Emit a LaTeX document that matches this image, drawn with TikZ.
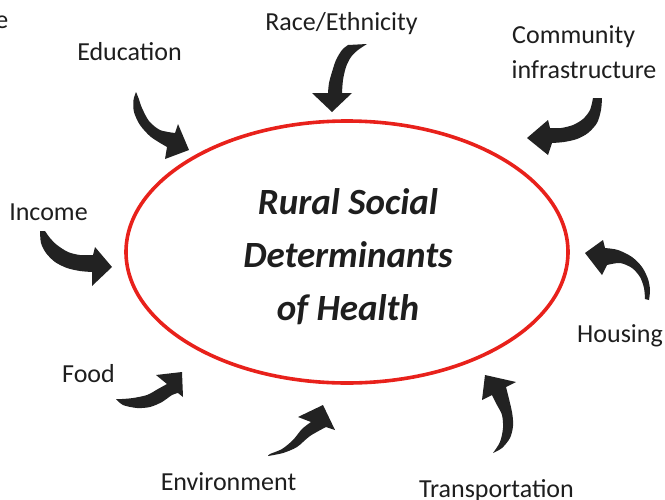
\documentclass[tikz,border=0pt]{standalone}
\usepackage{fontspec}
\setmainfont{Carlito}
\usetikzlibrary{shapes.geometric}
\definecolor{ringred}{HTML}{E8211B}
\definecolor{ink}{HTML}{1E1E1E}
\definecolor{arrowink}{HTML}{222222}
\begin{document}
\begin{tikzpicture}[x=1pt,y=-1pt,
  factor/.style={inner sep=0pt, text=ink, font=\fontsize{26}{34}\selectfont},
  swoosh/.style={fill=arrowink, draw=none},
]
\useasboundingbox (0,0) rectangle (665,499);

% central ellipse and its title
\node[ellipse, draw=ringred, line width=3.6pt, minimum width=442pt,
      minimum height=262pt, inner sep=0pt] (ring) at (347,252) {};
\node[inner sep=0pt, text=ink, align=center,
      font=\fontsize{37}{53}\selectfont\bfseries\itshape] (title) at (348,257)
  {Rural Social\\Determinants\\of Health};

% factor labels
\node[factor, anchor=base east] (edgee) at (8.5,28) {e};
\node[factor, anchor=base] (education) at (129.5,60) {Education};
\node[factor, anchor=base] (race) at (341.5,30) {Race/Ethnicity};
\node[factor, anchor=base west] (community) at (512,43) {Community};
\node[factor, anchor=base west] (infra) at (511.5,78) {infrastructure};
\node[factor, anchor=base] (income) at (48.5,220) {Income};
\node[factor, anchor=base] (housing) at (620,342) {Housing};
\node[factor, anchor=base] (food) at (88.5,382) {Food};
\node[factor, anchor=base] (environment) at (228.5,490) {Environment};
\node[factor, anchor=base] (transport) at (496.5,497) {Transportation};

% curved block arrows pointing at the ellipse
% education
\fill[swoosh] plot[smooth] coordinates {(136,92) (133.5,100) (134,112) (140,125) (151,137) (167,147)}
  -- (165,159) -- (189,150) -- (178,124)
  -- plot[smooth] coordinates {(175,133) (160,130) (149,121) (142,108) (138.5,98) (136,92)} -- cycle;
% race / ethnicity
\fill[swoosh] plot[smooth] coordinates {(367,44) (358,50) (351,57) (346,67) (343,80) (342,93)}
  -- (352,93) -- (332,112) -- (312,93)
  -- plot[smooth] coordinates {(328,93) (329,83) (332,72) (336,60) (342,50) (348,45)} -- cycle;
% community infrastructure
\fill[swoosh] plot[smooth] coordinates {(602,98) (601,110) (597,123) (588,133) (577,139) (564,142) (552,143)}
  -- (548,155) -- (527,138) -- (548,120)
  -- plot[smooth] coordinates {(550,128) (561,128) (573,125) (583,119) (590,110) (593,98)} -- cycle;
% income
\fill[swoosh] plot[smooth] coordinates {(40,231) (41,243) (46,253) (55,262) (67,268) (80,271) (92,272)}
  -- (92,286) -- (112,267) -- (95,247)
  -- plot[smooth] coordinates {(93,255) (80,255) (68,252) (57,245) (50,238) (45,231)} -- cycle;
% housing
\fill[swoosh] plot[smooth] coordinates {(649,300) (650,290) (648,279) (642,267) (632,257) (618,250) (605,248)}
  -- (603,240) -- (585,253) -- (602,275)
  -- plot[smooth] coordinates {(607,265) (620,263) (632,268) (640,277) (644,288) (645,299)} -- cycle;
% food
\fill[swoosh] plot[smooth] coordinates {(116,399) (123,405) (137,408) (150,407) (162,402) (172,395) (178,393)}
  -- (183,397) -- (182,372) -- (156,375)
  -- plot[smooth] coordinates {(167,384) (158,389) (147,395) (133,398) (122,399) (116,399)} -- cycle;
% environment
\fill[swoosh] plot[smooth] coordinates {(268,456) (283,453) (297,447) (310,436) (326,427)}
  -- (335,430) -- (323,405) -- (298,417)
  -- plot[smooth] coordinates {(311,422) (302,429) (293,440) (282,449) (270,454) (268,456)} -- cycle;
% transportation
\fill[swoosh] plot[smooth] coordinates {(493,453) (502,448) (510,438) (513,426) (512,412) (506,387)}
  -- (516,382) -- (485,375) -- (482,400)
  -- plot[smooth] coordinates {(492,395) (497,405) (502,415) (503,428) (500,442) (493,453)} -- cycle;
\end{tikzpicture}
\end{document}
